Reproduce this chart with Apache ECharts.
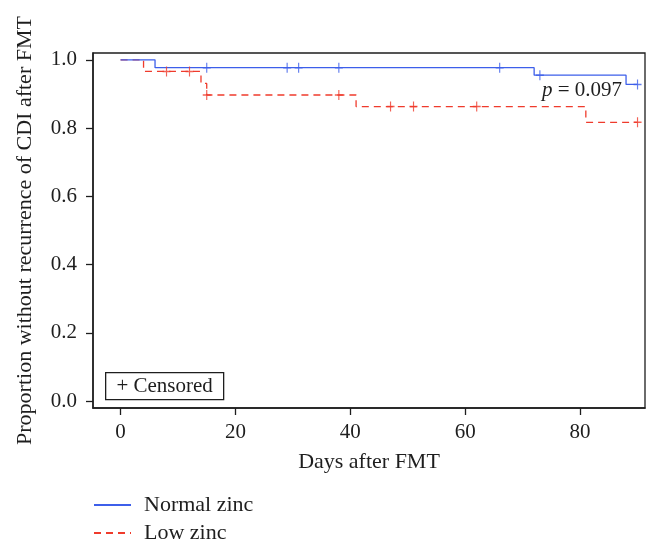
<!DOCTYPE html>
<html>
<head>
<meta charset="utf-8">
<script src="https://cdn.jsdelivr.net/npm/echarts@6/dist/echarts.min.js"></script>
<style>html,body{margin:0;padding:0;background:#fff}#c{width:660px;height:554px}</style>
</head>
<body>
<div id="c"></div>
<script>
// Kaplan-Meier step points [day, proportion]
const normalZincSteps = [[0, 1.0], [6, 0.977], [72, 0.955], [88, 0.928], [90, 0.928]];
const lowZincSteps = [[0, 1.0], [4, 0.966], [14, 0.931], [15, 0.897], [41, 0.863], [81, 0.817], [90, 0.817]];
// Censored observations [day, proportion]
const normalZincCensored = [[15, 0.977], [29, 0.977], [31, 0.977], [38, 0.977], [66, 0.977], [73, 0.955], [90, 0.928]];
const lowZincCensored = [[8, 0.966], [12, 0.966], [15, 0.897], [38, 0.897], [47, 0.863], [51, 0.863], [62, 0.863], [90, 0.817]];
const xTicks = [0, 20, 40, 60, 80];
const yTicks = [0, 0.2, 0.4, 0.6, 0.8, 1.0];
const seriesNames = ['Normal zinc', 'Low zinc'];
const pText = '0.097';

const BLUE = '#3d5fea', RED = '#ef3b2c', INK = '#1e1e1e';
const FONT = '"Liberation Serif", "DejaVu Serif", serif';
const plus = 'path://M0,5L10,5M5,0L5,10';

const chart = echarts.init(document.getElementById('c'), null, {renderer: 'canvas'});
chart.setOption({
  animation: false,
  textStyle: {fontFamily: FONT, color: INK},
  grid: {left: 93, top: 53, width: 552, height: 355, show: true, borderColor: INK, borderWidth: 1.3, backgroundColor: 'transparent'},
  xAxis: {
    type: 'value', min: -4.8, max: 91.3,
    name: 'Days after FMT', nameLocation: 'middle', nameGap: 43,
    nameTextStyle: {fontFamily: FONT, fontSize: 22, color: INK},
    axisLine: {show: true, onZero: false, lineStyle: {color: INK, width: 1.5}},
    axisTick: {show: true, length: 7, customValues: xTicks, lineStyle: {color: INK, width: 1.3}},
    axisLabel: {customValues: xTicks, margin: 14, fontFamily: FONT, fontSize: 21, color: INK},
    splitLine: {show: false}
  },
  yAxis: {
    type: 'value', min: -0.02, max: 1.02,
    name: 'Proportion without recurrence of CDI after FMT', nameLocation: 'middle', nameGap: 57,
    nameTextStyle: {fontFamily: FONT, fontSize: 22, color: INK},
    axisLine: {show: true, onZero: false, lineStyle: {color: INK, width: 1.5}},
    axisTick: {show: true, length: 7, customValues: yTicks, lineStyle: {color: INK, width: 1.3}},
    axisLabel: {customValues: yTicks, margin: 16, fontFamily: FONT, fontSize: 21, color: INK,
      formatter: v => v.toFixed(1)},
    splitLine: {show: false}
  },
  legend: {
    orient: 'vertical', left: 88, top: 489, itemGap: 6,
    itemWidth: 37, itemHeight: 14,
    data: seriesNames,
    itemStyle: {opacity: 0},
    textStyle: {fontFamily: FONT, fontSize: 22, color: INK, padding: [0, 0, 0, 8]}
  },
  series: [
    {name: seriesNames[0], type: 'line', step: 'end', symbol: 'none', data: normalZincSteps,
      lineStyle: {color: BLUE, width: 1.3}, itemStyle: {color: BLUE}, z: 3},
    {name: seriesNames[1], type: 'line', step: 'end', symbol: 'none', data: lowZincSteps,
      lineStyle: {color: RED, width: 1.3, type: [7, 5]}, itemStyle: {color: RED}, z: 2},
    {name: 'Normal zinc censored', type: 'scatter', data: normalZincCensored, symbol: plus, symbolSize: [8, 10],
      itemStyle: {color: 'none', borderColor: BLUE, borderWidth: 1.3}, z: 4},
    {name: 'Low zinc censored', type: 'scatter', data: lowZincCensored, symbol: plus, symbolSize: [8, 10],
      itemStyle: {color: 'none', borderColor: RED, borderWidth: 1.3}, z: 4}
  ],
  graphic: [
    {type: 'text', left: 542, top: 80, z: 10,
      style: {text: '{i|p} = ' + pText, fontFamily: FONT, fontSize: 21, fill: INK,
        rich: {i: {fontStyle: 'italic', fontFamily: FONT, fontSize: 21, fill: INK}}}},
    {type: 'group', left: 105, top: 372, z: 10, children: [
      {type: 'rect', shape: {x: 0, y: 0, width: 118, height: 27}, style: {fill: '#fff', stroke: INK, lineWidth: 1.3}},
      {type: 'text', x: 59, y: 14, style: {text: '+ Censored', fontFamily: FONT, fontSize: 21, fill: INK, align: 'center', verticalAlign: 'middle'}}
    ]},
    // the reference figure is cropped just below the second legend entry
    {type: 'rect', left: 0, top: 542, z: 100, shape: {width: 660, height: 12}, style: {fill: '#fff'}}
  ]
});
</script>
</body>
</html>
